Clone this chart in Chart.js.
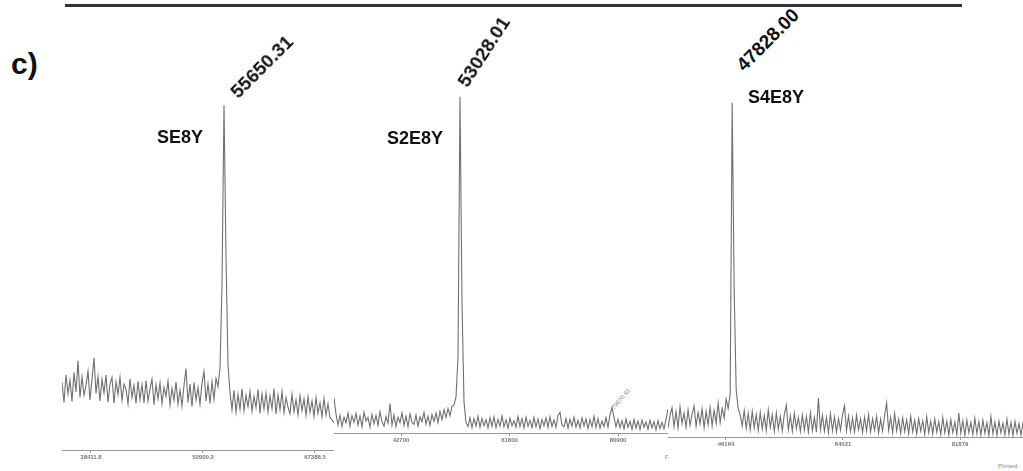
<!DOCTYPE html>
<html>
<head>
<meta charset="utf-8">
<script src="https://cdn.jsdelivr.net/npm/chart.js@4/dist/chart.umd.min.js"></script>
<style>
  body { margin:0; width:1023px; height:471px; background:#fff; position:relative; overflow:hidden;
         font-family:"Liberation Sans", Arial, sans-serif; }
  canvas { position:absolute; }
  .lbl { position:absolute; white-space:nowrap; font-weight:bold; color:#111; }
  .rot { transform:translate(-50%,-50%) rotate(-45deg); }
  .tiny { position:absolute; white-space:nowrap; font-size:6px; color:#888; }
</style>
</head>
<body>
<div style="position:absolute;left:65px;top:4px;width:897px;height:3px;background:#333;"></div>
<div class="lbl" style="left:11px;top:47px;font-size:30px;">c)</div>

<canvas id="p1" width="272" height="375" style="left:62px;top:90px;width:272px;height:375px;"></canvas>
<canvas id="p2" width="334" height="358" style="left:334px;top:90px;width:334px;height:358px;"></canvas>
<canvas id="p3" width="355" height="362" style="left:668px;top:90px;width:355px;height:362px;"></canvas>

<div class="lbl rot" style="left:262px;top:67px;font-size:19px;">55650.31</div>
<div class="lbl rot" style="left:484px;top:52px;font-size:19px;transform:translate(-50%,-50%) rotate(-57deg);">53028.01</div>
<div class="lbl rot" style="left:768px;top:40px;font-size:19px;">47828.00</div>
<div class="lbl" style="left:157px;top:127px;font-size:18px;">SE8Y</div>
<div class="lbl" style="left:387px;top:128px;font-size:18px;">S2E8Y</div>
<div class="lbl" style="left:748px;top:87px;font-size:18px;">S4E8Y</div>
<div class="tiny" style="left:621px;top:399px;transform:translate(-50%,-50%) rotate(-50deg);">79870.92</div>
<div class="tiny" style="left:665px;top:454px;">F</div>
<div class="tiny" style="left:998px;top:463px;">Printed:</div>

<script>
// spectrum 1 (SE8Y)
const p1Range = [34660, 69850];
const p1Ticks = [38411.8, 52900.2, 67388.5];
const p1TickLabels = ['38411.8', '52900.2', '67388.5'];
const p1Trace = [
  18.8, 13.2, 20.9, 15.6, 19.4, 13.5, 21.5, 16.1, 24.8, 14.6,
  20.3, 15.2, 17.8, 21.9, 13.9, 19.7, 25.6, 15.8, 20.4, 13.6,
  19.6, 15.9, 20.8, 13.2, 18.4, 20.1, 13.0, 18.9, 15.4, 20.2,
  13.8, 18.3, 16.9, 12.8, 19.8, 14.6, 17.9, 12.9, 19.1, 14.0,
  18.2, 13.1, 19.3, 13.6, 17.0, 19.7, 12.6, 18.1, 14.2, 18.6,
  12.9, 17.4, 14.9, 19.2, 12.5, 17.1, 13.8, 18.9, 12.8, 16.7,
  12.3, 18.0, 22.6, 13.2, 18.3, 12.1, 18.8, 13.9, 17.4, 12.7,
  18.5, 21.8, 13.6, 18.4, 12.9, 19.0, 14.1, 19.9, 17.6, 22.8,
  46, 95.8, 54, 23.5, 16.0,
  11.2, 16.6, 10.5, 15.4, 11.3, 17.0, 10.9, 15.2, 12.0, 16.3,
  10.8, 14.9, 11.8, 16.8, 10.2, 15.6, 11.4, 15.9, 10.6, 15.0,
  11.5, 17.1, 10.0, 15.3, 11.2, 16.2, 10.4, 14.6, 11.9, 10.1,
  15.5, 10.6, 13.9, 9.8, 15.1, 10.9, 14.2, 9.6, 14.8, 10.4,
  13.7, 9.3, 14.6, 10.2, 13.1, 9.2, 14.3, 9.7, 12.8, 9.0,
  8.4, 7.6
];

// spectrum 2 (S2E8Y)
const p2Range = [30900, 89700];
const p2Ticks = [42700, 61800, 80900];
const p2TickLabels = ['42700', '61800', '80900'];
const p2Trace = [
  10.2, 5.6, 2.4, 5.2, 1.9, 4.6, 3.0, 5.8, 2.0, 5.1,
  3.1, 5.7, 2.3, 4.9, 1.8, 6.1, 3.5, 4.5, 1.7, 5.4,
  2.7, 5.1, 2.2, 6.2, 3.3, 2.0, 4.8, 2.9, 8.6, 2.3,
  5.3, 1.9, 4.6, 3.0, 5.9, 2.2, 4.9, 1.8, 5.6, 3.1,
  2.5, 5.2, 2.0, 4.7, 3.3, 6.0, 2.6, 4.9, 2.2, 5.4,
  3.4, 5.8, 3.0, 6.3, 3.9, 6.8, 4.5, 7.2, 5.0, 7.8,
  8.1, 10.5, 22, 98, 38, 9.0, 3.0,
  1.9, 4.5, 1.6, 4.2, 2.0, 4.9, 1.7, 4.3, 2.1, 3.9,
  1.5, 4.5, 1.9, 4.7, 1.6, 4.0, 2.0, 5.0, 1.8, 3.8,
  1.4, 4.3, 2.1, 3.6, 1.7, 4.8, 1.9, 4.2, 1.5, 4.6,
  2.0, 3.7, 1.6, 4.5, 1.8, 4.1, 1.3, 3.9, 2.1, 4.4,
  1.7, 4.7, 1.9, 3.8, 1.6, 5.1, 6.0, 2.3, 1.8, 4.2,
  1.4, 4.0, 2.0, 4.6, 1.7, 3.7, 1.5, 4.4, 2.1, 4.1,
  1.3, 3.9, 1.8, 4.9, 1.6, 4.2, 1.4, 3.5, 1.9, 4.5,
  1.7, 5.3, 7.4, 4.6, 1.8, 4.0, 1.5, 3.6, 1.2, 4.1,
  1.6, 3.4, 1.1, 3.9, 1.4, 3.5, 1.0, 3.8, 1.7, 3.2,
  1.1, 3.7, 1.5, 3.3, 0.9, 3.6, 1.3, 3.1, 1.2, 4.0,
  7.0
];

// spectrum 3 (S4E8Y)
const p3Range = [37313, 91493];
const p3Ticks = [46164, 64021, 81879];
const p3TickLabels = ['46164', '64021', '81879'];
const p3Trace = [
  2.6, 6.2, 8.4, 3.0, 7.3, 2.6, 8.7, 3.9, 6.9, 2.8,
  7.8, 3.4, 6.5, 9.0, 3.1, 7.1, 3.8, 8.1, 2.7, 7.4,
  3.5, 8.6, 3.2, 7.7, 4.0, 9.8, 4.2, 8.3, 5.5, 10.9,
  8.2, 12.5, 96.3, 42, 13.5, 8.2, 6.4,
  3.2, 7.6, 2.5, 6.8, 2.1, 7.4, 2.7, 6.5, 2.0, 7.1,
  2.4, 6.2, 1.9, 7.8, 2.8, 6.4, 1.6, 6.9, 2.3, 5.9,
  1.8, 6.6, 9.2, 2.1, 6.1, 1.7, 6.8, 2.4, 5.6, 1.6,
  6.3, 2.0, 5.9, 1.5, 7.0, 1.9, 5.6, 1.4, 11.2, 2.2,
  6.2, 1.7, 5.5, 1.3, 6.7, 1.8, 5.8, 1.5, 5.3, 2.0,
  6.4, 9.0, 1.9, 6.0, 1.6, 5.4, 1.4, 6.3, 2.1, 5.2,
  1.3, 5.7, 1.8, 6.5, 1.5, 5.3, 2.0, 5.9, 1.2, 5.1,
  1.7, 6.2, 9.8, 1.9, 5.6, 1.3, 6.8, 1.8, 5.2, 1.1,
  5.5, 1.6, 4.9, 1.0, 6.0, 1.5, 4.8, 0.9, 5.3, 1.7,
  4.7, 0.8, 5.8, 1.3, 4.6, 0.9, 5.2, 1.4, 4.4, 0.7,
  5.6, 1.2, 4.5, 0.6, 5.0, 1.3, 4.3, 0.8, 6.9, 1.1,
  4.7, 0.5, 4.9, 1.2, 4.2, 0.7, 5.4, 1.0, 4.4, 0.6,
  4.8, 1.1, 4.1, 0.4, 5.9, 0.9, 4.3, 0.5, 4.6, 1.2,
  4.0, 0.6, 5.1, 0.8, 4.2, 0.4, 4.5, 1.0, 3.9, 0.5, 4.3
];

function makePanel(id, range, trace, tickVals, tickLabels) {
  const step = (range[1] - range[0]) / (trace.length - 1);
  const pts = trace.map((v, i) => ({ x: range[0] + i * step, y: v }));
  new Chart(document.getElementById(id).getContext('2d'), {
    type: 'line',
    data: {
      datasets: [{
        data: pts,
        borderColor: '#707070',
        borderWidth: 1.1,
        pointRadius: 0,
        tension: 0
      }]
    },
    options: {
      responsive: false,
      animation: false,
      layout: { padding: 0 },
      plugins: { legend: { display: false }, tooltip: { enabled: false } },
      scales: {
        x: {
          type: 'linear',
          min: range[0],
          max: range[1],
          grid: { display: true, drawOnChartArea: false, drawTicks: true, tickLength: 3, color: '#999' },
          border: { display: true, color: '#999', dash: [1, 2] },
          ticks: {
            color: '#777',
            padding: 1,
            maxRotation: 0,
            autoSkip: false,
            font: { size: 6, weight: 'bold', family: 'Liberation Sans' },
            callback: (v, i) => tickLabels[i]
          },
          afterBuildTicks: s => { s.ticks = tickVals.map(v => ({ value: v })); },
          afterFit: s => { s.height = 15; }
        },
        y: { display: false, min: 0, max: 100 }
      }
    }
  });
}

makePanel('p1', p1Range, p1Trace, p1Ticks, p1TickLabels);
makePanel('p2', p2Range, p2Trace, p2Ticks, p2TickLabels);
makePanel('p3', p3Range, p3Trace, p3Ticks, p3TickLabels);
</script>
</body>
</html>
